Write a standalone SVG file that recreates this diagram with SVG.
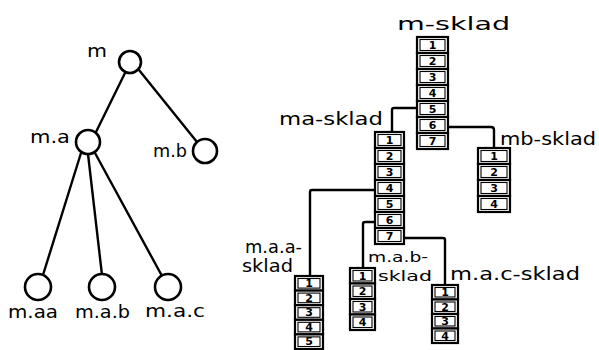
<svg xmlns="http://www.w3.org/2000/svg" width="599" height="350" viewBox="0 0 599 350">
<style>
.bg{fill:#fff}
.ln{fill:none;stroke:#000;stroke-width:2.4;stroke-linecap:round;stroke-linejoin:round}
.nd{fill:#fff;stroke:#000;stroke-width:2.6}
.lb{font-family:"DejaVu Sans",sans-serif;font-size:18px;fill:#000}
.sm{font-size:14px}
.cell{fill:#fff;stroke:#000;stroke-width:2.2}
.inn{fill:none;stroke:#000;stroke-width:1.1}
.dg{font-family:"DejaVu Sans",sans-serif;font-size:11px;font-weight:bold;fill:#000;text-anchor:middle}
</style>
<rect class="bg" x="0" y="0" width="599" height="350"/>
<g id="connectors">
<line class="ln" x1="125" y1="73" x2="96" y2="132"/>
<line class="ln" x1="139" y1="70" x2="197" y2="142"/>
<line class="ln" x1="81" y1="153" x2="43" y2="275"/>
<line class="ln" x1="88" y1="154" x2="102" y2="275"/>
<line class="ln" x1="95" y1="153" x2="162" y2="276"/>
<path class="ln" d="M417,108 H394 Q392,108 392,110 V132"/>
<path class="ln" d="M448,127 H491 Q494,127 494,130 V148"/>
<path class="ln" d="M375,190 H312 Q310,190 310,192 V276"/>
<path class="ln" d="M375,222 H365 Q363,222 363,224 V268"/>
<path class="ln" d="M404,238 H443 Q445,238 445,240 V285"/>
</g>
<g id="node-m"><circle class="nd" cx="130" cy="62" r="11"/><text class="lb" x="87" y="57" textLength="20" lengthAdjust="spacingAndGlyphs">m</text></g>
<g id="node-ma"><circle class="nd" cx="88" cy="142" r="12"/><text class="lb" x="30" y="143" textLength="40" lengthAdjust="spacingAndGlyphs">m.a</text></g>
<g id="node-mb"><circle class="nd" cx="205" cy="151" r="12"/><text class="lb" x="153" y="157" textLength="34" lengthAdjust="spacingAndGlyphs">m.b</text></g>
<g id="node-maa"><circle class="nd" cx="38" cy="287" r="13"/><text class="lb" x="8" y="318" textLength="50" lengthAdjust="spacingAndGlyphs">m.aa</text></g>
<g id="node-mab"><circle class="nd" cx="102" cy="287" r="13"/><text class="lb" x="75" y="318" textLength="55" lengthAdjust="spacingAndGlyphs">m.a.b</text></g>
<g id="node-mac"><circle class="nd" cx="168" cy="287" r="13"/><text class="lb" x="145" y="317" textLength="60" lengthAdjust="spacingAndGlyphs">m.a.c</text></g>

<g id="stack-m">
<text class="lb" x="397" y="30" textLength="113" lengthAdjust="spacingAndGlyphs">m-sklad</text>
<rect class="cell" x="417" y="37" width="31" height="16"/><rect class="inn" x="420" y="39.5" width="25" height="11"/><text class="dg" x="432.5" y="49">1</text>
<rect class="cell" x="417" y="53" width="31" height="16"/><rect class="inn" x="420" y="55.5" width="25" height="11"/><text class="dg" x="432.5" y="65">2</text>
<rect class="cell" x="417" y="69" width="31" height="16"/><rect class="inn" x="420" y="71.5" width="25" height="11"/><text class="dg" x="432.5" y="81">3</text>
<rect class="cell" x="417" y="85" width="31" height="16"/><rect class="inn" x="420" y="87.5" width="25" height="11"/><text class="dg" x="432.5" y="97">4</text>
<rect class="cell" x="417" y="101" width="31" height="16"/><rect class="inn" x="420" y="103.5" width="25" height="11"/><text class="dg" x="432.5" y="113">5</text>
<rect class="cell" x="417" y="117" width="31" height="16"/><rect class="inn" x="420" y="119.5" width="25" height="11"/><text class="dg" x="432.5" y="129">6</text>
<rect class="cell" x="417" y="133" width="31" height="16"/><rect class="inn" x="420" y="135.5" width="25" height="11"/><text class="dg" x="432.5" y="145">7</text>
</g>

<g id="stack-ma">
<text class="lb" x="279" y="125" textLength="104" lengthAdjust="spacingAndGlyphs">ma-sklad</text>
<rect class="cell" x="375" y="132" width="29" height="16"/><rect class="inn" x="378" y="134.5" width="23" height="11"/><text class="dg" x="389.5" y="144">1</text>
<rect class="cell" x="375" y="148" width="29" height="16"/><rect class="inn" x="378" y="150.5" width="23" height="11"/><text class="dg" x="389.5" y="160">2</text>
<rect class="cell" x="375" y="164" width="29" height="16"/><rect class="inn" x="378" y="166.5" width="23" height="11"/><text class="dg" x="389.5" y="176">3</text>
<rect class="cell" x="375" y="180" width="29" height="16"/><rect class="inn" x="378" y="182.5" width="23" height="11"/><text class="dg" x="389.5" y="192">4</text>
<rect class="cell" x="375" y="196" width="29" height="16"/><rect class="inn" x="378" y="198.5" width="23" height="11"/><text class="dg" x="389.5" y="208">5</text>
<rect class="cell" x="375" y="212" width="29" height="16"/><rect class="inn" x="378" y="214.5" width="23" height="11"/><text class="dg" x="389.5" y="224">6</text>
<rect class="cell" x="375" y="228" width="29" height="16"/><rect class="inn" x="378" y="230.5" width="23" height="11"/><text class="dg" x="389.5" y="240">7</text>
</g>

<g id="stack-mb">
<text class="lb" x="500" y="145" textLength="96" lengthAdjust="spacingAndGlyphs">mb-sklad</text>
<rect class="cell" x="478" y="148" width="32" height="16"/><rect class="inn" x="481" y="150.5" width="26" height="11"/><text class="dg" x="494" y="160">1</text>
<rect class="cell" x="478" y="164" width="32" height="16"/><rect class="inn" x="481" y="166.5" width="26" height="11"/><text class="dg" x="494" y="176">2</text>
<rect class="cell" x="478" y="180" width="32" height="16"/><rect class="inn" x="481" y="182.5" width="26" height="11"/><text class="dg" x="494" y="192">3</text>
<rect class="cell" x="478" y="196" width="32" height="16"/><rect class="inn" x="481" y="198.5" width="26" height="11"/><text class="dg" x="494" y="208">4</text>
</g>

<g id="stack-maa">
<text class="lb" x="245" y="253" textLength="57" lengthAdjust="spacingAndGlyphs">m.a.a-</text>
<text class="lb" x="242" y="272" textLength="51" lengthAdjust="spacingAndGlyphs">sklad</text>
<rect class="cell" x="295" y="276" width="28" height="14.6"/><rect class="inn" x="298" y="278.5" width="22" height="9.6"/><text class="dg" x="309" y="287">1</text>
<rect class="cell" x="295" y="290.6" width="28" height="14.6"/><rect class="inn" x="298" y="293.1" width="22" height="9.6"/><text class="dg" x="309" y="301.6">2</text>
<rect class="cell" x="295" y="305.2" width="28" height="14.6"/><rect class="inn" x="298" y="307.7" width="22" height="9.6"/><text class="dg" x="309" y="316.2">3</text>
<rect class="cell" x="295" y="319.8" width="28" height="14.6"/><rect class="inn" x="298" y="322.3" width="22" height="9.6"/><text class="dg" x="309" y="330.8">4</text>
<rect class="cell" x="295" y="334.4" width="28" height="14.6"/><rect class="inn" x="298" y="336.9" width="22" height="9.6"/><text class="dg" x="309" y="345.4">5</text>
</g>

<g id="stack-mab">
<text class="lb sm" x="368" y="262" textLength="60" lengthAdjust="spacingAndGlyphs">m.a.b-</text>
<text class="lb sm" x="378" y="281" textLength="54" lengthAdjust="spacingAndGlyphs">sklad</text>
<rect class="cell" x="350" y="268" width="25" height="15.5"/><rect class="inn" x="353" y="270.5" width="19" height="10.5"/><text class="dg" x="362.5" y="279.5">1</text>
<rect class="cell" x="350" y="283.5" width="25" height="15.5"/><rect class="inn" x="353" y="286" width="19" height="10.5"/><text class="dg" x="362.5" y="295">2</text>
<rect class="cell" x="350" y="299" width="25" height="15.5"/><rect class="inn" x="353" y="301.5" width="19" height="10.5"/><text class="dg" x="362.5" y="310.5">3</text>
<rect class="cell" x="350" y="314.5" width="25" height="15.5"/><rect class="inn" x="353" y="317" width="19" height="10.5"/><text class="dg" x="362.5" y="326">4</text>
</g>

<g id="stack-mac">
<text class="lb" x="450" y="280" textLength="130" lengthAdjust="spacingAndGlyphs">m.a.c-sklad</text>
<rect class="cell" x="432" y="285" width="26" height="14.5"/><rect class="inn" x="435" y="287.5" width="20" height="9.5"/><text class="dg" x="445" y="296">1</text>
<rect class="cell" x="432" y="299.5" width="26" height="14.5"/><rect class="inn" x="435" y="302" width="20" height="9.5"/><text class="dg" x="445" y="310.5">2</text>
<rect class="cell" x="432" y="314" width="26" height="14.5"/><rect class="inn" x="435" y="316.5" width="20" height="9.5"/><text class="dg" x="445" y="325">3</text>
<rect class="cell" x="432" y="328.5" width="26" height="14.5"/><rect class="inn" x="435" y="331" width="20" height="9.5"/><text class="dg" x="445" y="339.5">4</text>
</g>
</svg>
